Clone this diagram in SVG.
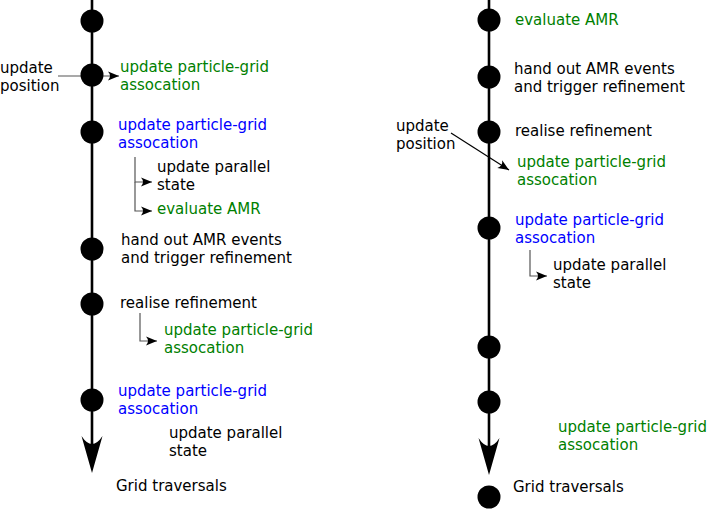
<svg xmlns="http://www.w3.org/2000/svg" width="708" height="509" viewBox="0 0 708 509">
<defs>
<style>
text{font-family:"DejaVu Sans","Liberation Sans",sans-serif;font-size:15px;fill:#000}
.g{fill:#008000}
.b{fill:#0000ff}
.main{stroke:#000;stroke-width:2.6;fill:none}
.dot{fill:#000}
.thin{stroke:#555;stroke-width:1.2;fill:none}
.thinb{stroke:#000;stroke-width:1.2;fill:none}
</style>
<marker id="sm" markerUnits="userSpaceOnUse" viewBox="-12 -6 14 12" markerWidth="14" markerHeight="12" refX="0" refY="0" orient="auto" overflow="visible">
<path d="M0,0 L-11,-4.5 Q-7,0 -11,4.5 Z" fill="#000"/>
</marker>
</defs>

<g id="connectors">
<line class="main" x1="92" y1="0" x2="92" y2="455"/>
<path d="M92,473 L81.5,436 Q92,452 102.5,436 Z" fill="#000"/>
<line class="main" x1="489" y1="0" x2="489" y2="458"/>
<path d="M489,475 L478.5,438 Q489,454 499.5,438 Z" fill="#000"/>
<path class="thin" d="M58,76 H119" marker-end="url(#sm)"/>
<path class="thin" d="M135,157 V182 H152" marker-end="url(#sm)"/>
<path class="thin" d="M135,182 V211 H152" marker-end="url(#sm)"/>
<path class="thin" d="M140,313 V341 H157" marker-end="url(#sm)"/>
<path class="thinb" d="M451,133 L509,170" marker-end="url(#sm)"/>
<path class="thin" d="M530,250 V276 H547" marker-end="url(#sm)"/>
</g>

<g id="left-dots">
<circle class="dot" cx="92" cy="21" r="11.5"/>
<circle class="dot" cx="92" cy="75" r="11.5"/>
<circle class="dot" cx="92" cy="132" r="11.5"/>
<circle class="dot" cx="92" cy="249" r="11.5"/>
<circle class="dot" cx="92" cy="304" r="11.5"/>
<circle class="dot" cx="92" cy="400" r="11.5"/>
</g>
<g id="right-dots">
<circle class="dot" cx="489" cy="20" r="11.5"/>
<circle class="dot" cx="489" cy="77" r="11.5"/>
<circle class="dot" cx="489" cy="132" r="11.5"/>
<circle class="dot" cx="489" cy="228" r="11.5"/>
<circle class="dot" cx="489" cy="347" r="11.5"/>
<circle class="dot" cx="489" cy="402" r="11.5"/>
<circle class="dot" cx="489" cy="497" r="11.5"/>
</g>

<g id="left-labels">
<text x="0" y="73">update</text>
<text x="0" y="91">position</text>
<text class="g" x="120" y="72">update particle-grid</text>
<text class="g" x="120" y="90">assocation</text>
<text class="b" x="118" y="130">update particle-grid</text>
<text class="b" x="118" y="148">assocation</text>
<text x="157" y="172">update parallel</text>
<text x="157" y="190">state</text>
<text class="g" x="157" y="214">evaluate AMR</text>
<text x="121" y="245">hand out AMR events</text>
<text x="121" y="263">and trigger refinement</text>
<text x="120" y="308">realise refinement</text>
<text class="g" x="164" y="335">update particle-grid</text>
<text class="g" x="164" y="353">assocation</text>
<text class="b" x="118" y="396">update particle-grid</text>
<text class="b" x="118" y="414">assocation</text>
<text x="169" y="438">update parallel</text>
<text x="169" y="456">state</text>
<text x="116" y="491">Grid traversals</text>
</g>

<g id="right-labels">
<text class="g" x="515" y="25">evaluate AMR</text>
<text x="514" y="74">hand out AMR events</text>
<text x="514" y="92">and trigger refinement</text>
<text x="515" y="136">realise refinement</text>
<text x="396" y="131">update</text>
<text x="396" y="149">position</text>
<text class="g" x="517" y="167">update particle-grid</text>
<text class="g" x="517" y="185">assocation</text>
<text class="b" x="515" y="225">update particle-grid</text>
<text class="b" x="515" y="243">assocation</text>
<text x="553" y="270">update parallel</text>
<text x="553" y="288">state</text>
<text class="g" x="558" y="432">update particle-grid</text>
<text class="g" x="558" y="450">assocation</text>
<text x="513" y="492">Grid traversals</text>
</g>
</svg>
